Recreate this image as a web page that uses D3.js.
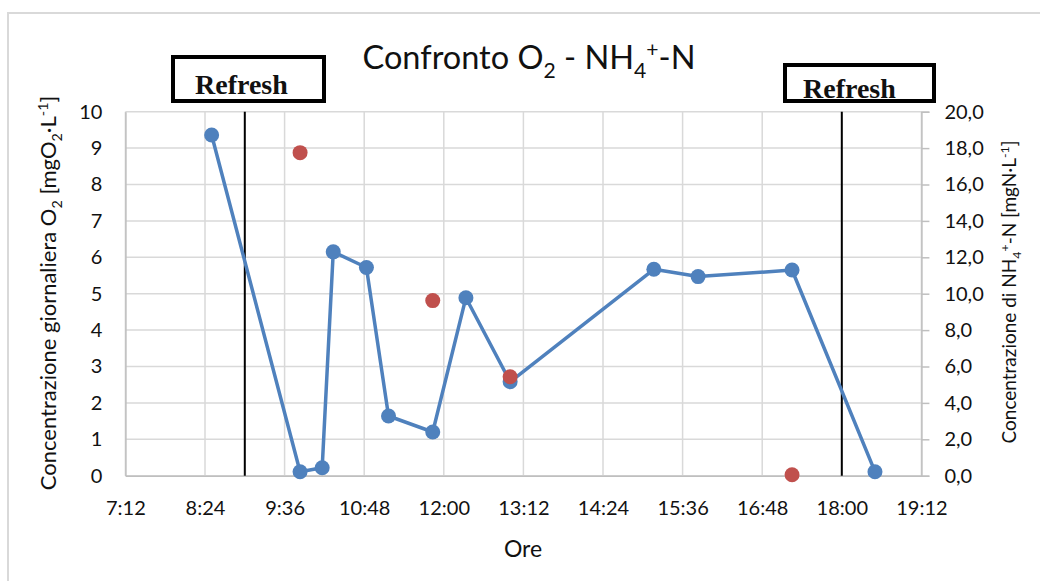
<!DOCTYPE html>
<html>
<head>
<meta charset="utf-8">
<script src="https://cdn.jsdelivr.net/npm/d3@7"></script>
<style>
	body { margin: 0; background: #fff; }
	text { white-space: pre; }
</style>
</head>
<body>
<div id="chart"></div>
<script>
// O2 series (left axis)
let o2Times = ["8:30", "9:50", "10:10", "10:20", "10:50", "11:10", "11:50", "12:20", "13:00", "15:10", "15:50", "17:15", "18:30"];
let o2Values = [9.36, 0.11, 0.22, 6.15, 5.72, 1.64, 1.2, 4.89, 2.58, 5.67, 5.47, 5.65, 0.11];

// NH4+-N samples (right axis)
let nhTimes = ["9:50", "11:50", "13:00", "17:15"];
let nhValues = [17.75, 9.62, 5.44, 0.05];

let refreshTimes = ["9:00", "18:00"];
let refreshLabels = ["Refresh", "Refresh"];

let xTickLabels = ["7:12", "8:24", "9:36", "10:48", "12:00", "13:12", "14:24", "15:36", "16:48", "18:00", "19:12"];
let leftTicks = [0, 1, 2, 3, 4, 5, 6, 7, 8, 9, 10];
let rightTicks = [0, 2, 4, 6, 8, 10, 12, 14, 16, 18, 20];

let svg, plot;
let x, yLeft, yRight;
let width, height;

//
//	toMinutes
//
//
toMinutes = function (t) {
	let p = t.split(":");
	return +p[0] * 60 + +p[1];
};

//
//	richText
//	 parts: [text, "sub" | "sup" | undefined]
//
richText = function (sel, parts, size) {
	let shift = 0;
	parts.forEach(function (p) {
		let target = p[1] === "sub" ? size * 0.28 : p[1] === "sup" ? -size * 0.38 : 0;
		sel
			.append("tspan")
			.attr("dy", target - shift)
			.attr("font-size", p[1] ? size * 0.65 : size)
			.text(p[0]);
		shift = target;
	});
};

//
//	initD3
//
//
initD3 = function () {
	var margin = { top: 111.7, right: 118.6, bottom: 105.3, left: 125.4 };
	width = 1040 - margin.left - margin.right;
	height = 581 - margin.top - margin.bottom;

	svg = d3
		.select("#chart")
		.append("svg")
		.attr("width", 1040)
		.attr("height", 581)
		.style("font-family", "Lato, 'Open Sans', sans-serif");

	// outer chart border
	svg
		.append("rect")
		.attr("x", 8)
		.attr("y", 13)
		.attr("width", 1040)
		.attr("height", 580)
		.attr("fill", "none")
		.attr("stroke", "#d9d9d9")
		.attr("stroke-width", 2);

	plot = svg
		.append("g")
		.attr("transform", "translate(" + margin.left + "," + margin.top + ")");

	let xTicks = xTickLabels.map(toMinutes);
	x = d3.scaleLinear().domain([xTicks[0], xTicks[xTicks.length - 1]]).range([0, width]);
	yLeft = d3.scaleLinear().domain([0, 10]).range([height, 0]);
	yRight = d3.scaleLinear().domain([0, 20]).range([height, 0]);

	// gridlines
	plot
		.selectAll(".hgrid")
		.data(leftTicks)
		.enter()
		.append("line")
		.attr("x1", 0)
		.attr("x2", width)
		.attr("y1", (d) => yLeft(d))
		.attr("y2", (d) => yLeft(d))
		.attr("stroke", "#d9d9d9")
		.attr("stroke-width", 1.5);
	plot
		.selectAll(".vgrid")
		.data(xTicks)
		.enter()
		.append("line")
		.attr("x1", (d) => x(d))
		.attr("x2", (d) => x(d))
		.attr("y1", 0)
		.attr("y2", height)
		.attr("stroke", "#d9d9d9")
		.attr("stroke-width", 1.5);

	// axes
	let xAxis = plot
		.append("g")
		.attr("transform", "translate(0," + height + ")")
		.call(
			d3.axisBottom(x)
				.tickValues(xTicks)
				.tickFormat((d, i) => xTickLabels[i])
				.tickSize(0)
				.tickPadding(25)
		);
	let leftAxis = plot
		.append("g")
		.call(d3.axisLeft(yLeft).tickValues(leftTicks).tickFormat(d3.format("d")).tickSize(0).tickPadding(23));
	let rightAxis = plot
		.append("g")
		.attr("transform", "translate(" + width + ",0)")
		.call(
			d3.axisRight(yRight)
				.tickValues(rightTicks)
				.tickFormat((d) => d.toFixed(1).replace(".", ","))
				.tickSize(8)
				.tickPadding(15)
		);
	[xAxis, leftAxis, rightAxis].forEach(function (a) {
		a.select(".domain").attr("stroke", "#bfbfbf").attr("stroke-width", 1.5);
		a.selectAll(".tick line").attr("stroke", "#bfbfbf").attr("stroke-width", 1.5);
		a.selectAll("text").attr("font-family", "Lato").attr("font-size", 20).attr("fill", "#111");
	});
};

//
//	drawSeries
//
//
drawSeries = function () {
	// refresh lines
	plot
		.selectAll(".refresh")
		.data(refreshTimes)
		.enter()
		.append("line")
		.attr("x1", (d) => x(toMinutes(d)))
		.attr("x2", (d) => x(toMinutes(d)))
		.attr("y1", 0)
		.attr("y2", height)
		.attr("stroke", "#000")
		.attr("stroke-width", 2);

	let o2Data = o2Times.map((t, i) => ({ t: toMinutes(t), v: o2Values[i] }));
	let line = d3
		.line()
		.x((d) => x(d.t))
		.y((d) => yLeft(d.v));
	plot
		.append("path")
		.datum(o2Data)
		.attr("d", line)
		.attr("fill", "none")
		.attr("stroke", "#4f81bd")
		.attr("stroke-width", 3.5)
		.attr("stroke-linejoin", "round");
	plot
		.selectAll(".o2dot")
		.data(o2Data)
		.enter()
		.append("circle")
		.attr("cx", (d) => x(d.t))
		.attr("cy", (d) => yLeft(d.v))
		.attr("r", 7.5)
		.attr("fill", "#4f81bd");

	plot
		.selectAll(".nhdot")
		.data(nhTimes)
		.enter()
		.append("circle")
		.attr("cx", (d) => x(toMinutes(d)))
		.attr("cy", (d, i) => yRight(nhValues[i]))
		.attr("r", 7.5)
		.attr("fill", "#c0504d");
};

//
//	drawLabels
//
//
drawLabels = function () {
	let title = svg
		.append("text")
		.attr("x", 529)
		.attr("y", 69)
		.attr("text-anchor", "middle")
		.attr("fill", "#111");
	richText(title, [["Confronto O"], ["2", "sub"], [" - NH"], ["4", "sub"], ["+", "sup"], ["-N"]], 32.5);

	let leftTitle = svg
		.append("text")
		.attr("transform", "translate(56,293) rotate(-90)")
		.attr("text-anchor", "middle")
		.attr("fill", "#111");
	richText(
		leftTitle,
		[["Concentrazione giornaliera O"], ["2", "sub"], [" [mgO"], ["2", "sub"], ["·L"], ["-1", "sup"], ["]"]],
		22
	);

	let rightTitle = svg
		.append("text")
		.attr("transform", "translate(1016,292) rotate(-90)")
		.attr("text-anchor", "middle")
		.attr("fill", "#111");
	richText(rightTitle, [["Concentrazione di NH"], ["4", "sub"], ["+", "sup"], ["-N [mgN·L"], ["-1", "sup"], ["]"]], 19);

	svg
		.append("text")
		.attr("x", 523)
		.attr("y", 557)
		.attr("text-anchor", "middle")
		.attr("font-size", 23)
		.attr("fill", "#111")
		.text("Ore");

	// refresh annotation boxes
	let boxes = [
		{ x: 173, y: 57, w: 151, h: 44, tx: 195, ty: 94 },
		{ x: 785, y: 65, w: 149, h: 36, tx: 803, ty: 98 },
	];
	boxes.forEach(function (b, i) {
		svg
			.append("rect")
			.attr("x", b.x)
			.attr("y", b.y)
			.attr("width", b.w)
			.attr("height", b.h)
			.attr("fill", "#fff")
			.attr("stroke", "#000")
			.attr("stroke-width", 4);
		svg
			.append("text")
			.attr("x", b.tx)
			.attr("y", b.ty)
			.attr("font-family", "'Liberation Serif', 'Times New Roman', serif")
			.attr("font-weight", "bold")
			.attr("font-size", 28)
			.attr("fill", "#111")
			.text(refreshLabels[i]);
	});
};

initD3();
drawSeries();
drawLabels();
</script>
</body>
</html>
